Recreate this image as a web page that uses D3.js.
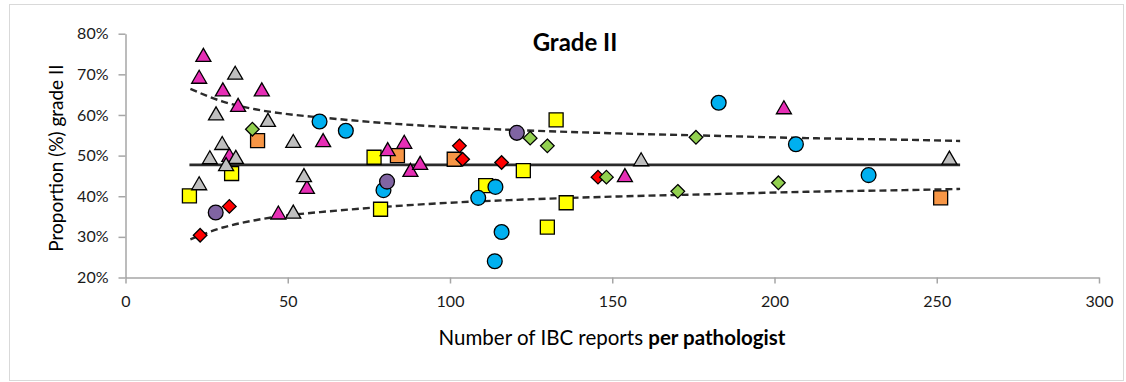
<!DOCTYPE html>
<html>
<head>
<meta charset="utf-8">
<script src="https://cdn.jsdelivr.net/npm/d3@7"></script>
<style>
  html, body { margin: 0; padding: 0; background: #fff; }
  svg { display: block; font-family: Lato, 'Open Sans', sans-serif; }
</style>
</head>
<body>
<svg id="chart"></svg>
<script>
// values: [reports per pathologist, % grade II]
const magentaTriangles = [[24, 74.8], [22.7, 69.4], [30.0, 66.3], [42.0, 66.3], [34.7, 62.5], [60.9, 53.8], [32.0, 50.2],
  [55.9, 42.3], [47.1, 36.0], [80.8, 51.6], [85.9, 53.4], [87.8, 46.5], [90.8, 48.2], [153.9, 45.2], [202.9, 61.9]];
const grayTriangles = [[33.8, 70.4], [27.9, 60.4], [43.9, 58.8], [29.8, 53.1], [51.7, 53.6], [26.0, 49.6], [34.0, 49.7],
  [31.0, 47.9], [22.7, 43.2], [55.0, 45.2], [51.7, 36.2], [158.9, 49.1], [253.9, 49.5]];
const yellowSquares = [[19.7, 40.1], [32.7, 45.6], [76.6, 49.6], [78.6, 36.8], [111.0, 42.6], [122.6, 46.3], [132.7, 58.8],
  [135.8, 38.4], [130.0, 32.4]];
const orangeSquares = [[40.7, 53.7], [83.8, 50.0], [101.3, 49.1], [251.2, 39.6]];
const blueCircles = [[59.8, 58.4], [67.9, 56.1], [79.5, 41.5], [108.7, 39.6], [114.0, 42.3], [115.9, 31.2], [113.8, 24.0],
  [182.8, 63.0], [206.6, 52.8], [229.0, 45.2]];
const purpleCircles = [[27.8, 36.0], [80.6, 43.6], [120.6, 55.6]];
const redDiamonds = [[23.0, 30.4], [32.0, 37.5], [102.9, 52.4], [103.9, 49.1], [115.9, 48.3], [145.6, 44.7]];
const greenDiamonds = [[39.1, 56.5], [124.7, 54.3], [130.0, 52.4], [148.2, 44.7], [170.2, 41.2], [175.8, 54.5], [201.2, 43.3]];

const meanValue = 47.7;
const meanRange = [19.7, 257.2];
const limitX = [20, 30, 40, 50, 60, 80, 100, 120, 150, 180, 210, 240, 257.2];
const upperLimit = [66.4, 63.3, 61.4, 60.2, 59.4, 58.0, 57.0, 56.3, 55.5, 54.9, 54.3, 53.9, 53.6];
const lowerLimit = [29.4, 32.3, 34.1, 35.3, 36.1, 37.4, 38.4, 39.1, 39.9, 40.5, 41.1, 41.5, 41.8];

const xTicks = [0, 50, 100, 150, 200, 250, 300];
const yTicks = [20, 30, 40, 50, 60, 70, 80];

const width = 1126, height = 382;
const svg = d3.select('#chart').attr('width', width).attr('height', height);

// chart frame
svg.append('rect').attr('x', 9.5).attr('y', 4.5).attr('width', 1114).attr('height', 376)
  .attr('fill', '#fff').attr('stroke', '#d9d9d9').attr('stroke-width', 1);

const x = d3.scaleLinear([0, 300], [125.5, 1099]);
const y = d3.scaleLinear([20, 80], [277.5, 33.7]);

const axisColor = '#a6a6a6';
const yAxis = svg.append('g').attr('transform', 'translate(125.5,0)')
  .call(d3.axisLeft(y).tickValues(yTicks).tickFormat((d) => d + '%').tickSize(7).tickSizeOuter(0).tickPadding(10));
const xAxis = svg.append('g').attr('transform', 'translate(0,277.5)')
  .call(d3.axisBottom(x).tickValues(xTicks).tickSize(6).tickSizeOuter(0).tickPadding(12));
[xAxis, yAxis].forEach((g) => {
  g.select('.domain').attr('stroke', axisColor).attr('stroke-width', 1.5);
  g.selectAll('.tick line').attr('stroke', axisColor).attr('stroke-width', 1.5);
  g.selectAll('.tick text').attr('fill', '#1a1a1a').style('font-size', '16px').style('font-family', 'Lato, sans-serif');
});

// mean and limit lines
svg.append('line')
  .attr('x1', x(meanRange[0])).attr('x2', x(meanRange[1]))
  .attr('y1', y(meanValue)).attr('y2', y(meanValue))
  .attr('stroke', '#2b2b2b').attr('stroke-width', 2.7);

const limitLine = (vals) => d3.line().curve(d3.curveMonotoneX)
  .x((d, i) => x(limitX[i])).y((d) => y(d))(vals);
[upperLimit, lowerLimit].forEach((vals) => {
  svg.append('path').attr('d', limitLine(vals))
    .attr('fill', 'none').attr('stroke', '#2b2b2b').attr('stroke-width', 2.4).attr('stroke-dasharray', '7 4');
});

// marker shapes, centred on the bounding box
const shapes = {
  triangle: 'M0,-6.5L7.5,6.5L-7.5,6.5Z',
  square: 'M-7,-7H7V7H-7Z',
  diamond: 'M0,-6.8L6.8,0L0,6.8L-6.8,0Z',
  circle: d3.symbol(d3.symbolCircle, Math.PI * 7.4 * 7.4)(),
};

const series = [
  { data: yellowSquares, shape: 'square', color: '#ffff00' },
  { data: orangeSquares, shape: 'square', color: '#f79646' },
  { data: magentaTriangles, shape: 'triangle', color: '#e62eb5' },
  { data: grayTriangles, shape: 'triangle', color: '#bfbfbf' },
  { data: blueCircles, shape: 'circle', color: '#00b0f0' },
  { data: purpleCircles, shape: 'circle', color: '#8064a2' },
  { data: redDiamonds, shape: 'diamond', color: '#ff0000' },
  { data: greenDiamonds, shape: 'diamond', color: '#92d050' },
];

series.forEach((s) => {
  svg.append('g')
    .selectAll('path')
    .data(s.data)
    .join('path')
    .attr('d', shapes[s.shape])
    .attr('transform', (d) => `translate(${x(d[0])},${y(d[1])})`)
    .attr('fill', s.color)
    .attr('stroke', '#000')
    .attr('stroke-width', 1.3)
    .attr('stroke-linejoin', 'miter');
});

// titles
svg.append('text').attr('x', 575).attr('y', 43).attr('dy', '0.35em').attr('text-anchor', 'middle')
  .style('font-size', '24px').style('font-weight', 'bold').attr('fill', '#000').text('Grade II');

const xTitle = svg.append('text').attr('x', 612).attr('y', 338).attr('dy', '0.35em').attr('text-anchor', 'middle')
  .style('font-size', '20.5px').attr('fill', '#000');
xTitle.append('tspan').text('Number of IBC reports ');
xTitle.append('tspan').style('font-weight', 'bold').text('per pathologist');

svg.append('text').attr('transform', 'translate(56,158) rotate(-90)').attr('dy', '0.35em').attr('text-anchor', 'middle')
  .style('font-size', '19px').attr('fill', '#000').text('Proportion (%) grade II');
</script>
</body>
</html>
